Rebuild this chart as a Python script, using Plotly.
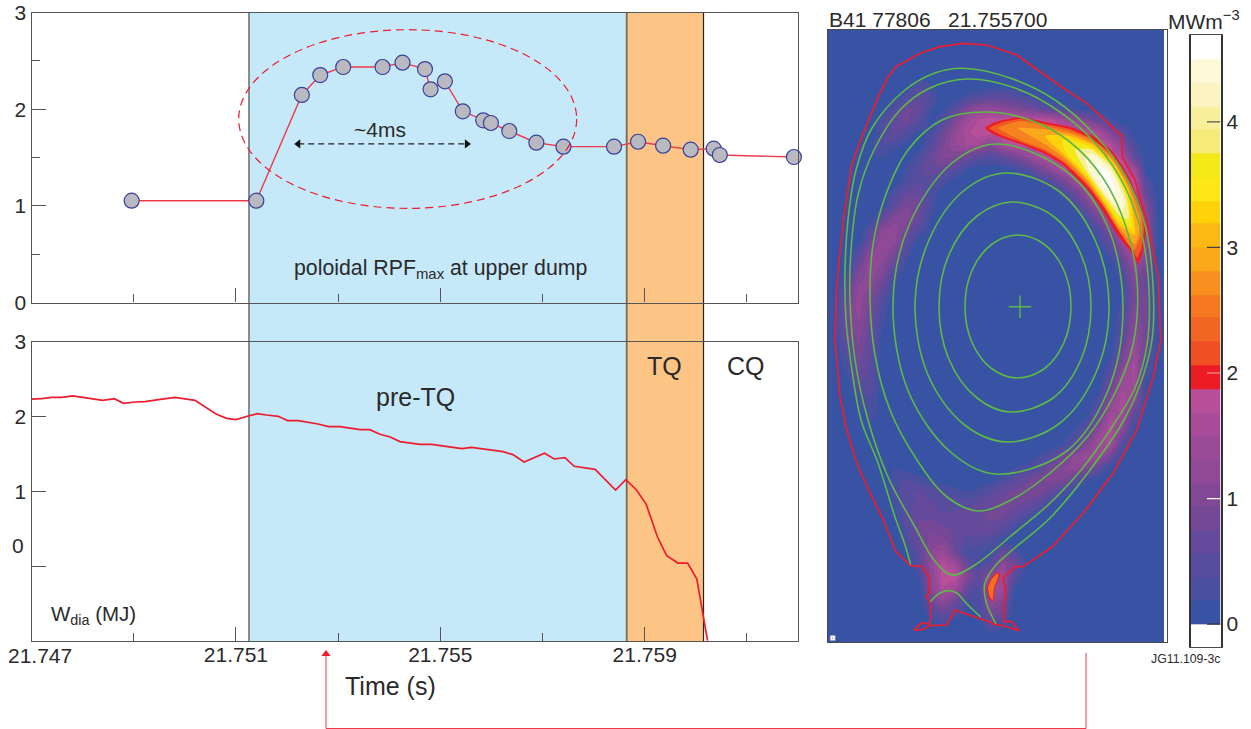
import plotly.graph_objects as go

W, H = 1251, 729
INK = "#2b2a2b"
RED = "#ed1c2e"
GREEN = "#5cb947"
FONT = "Liberation Sans"

# ---------- time traces ----------
RPF_T = [21.74896, 21.7514, 21.75229, 21.75265, 21.7531, 21.75387, 21.75426, 21.7547, 21.75481, 21.75509,
         21.75544, 21.75584, 21.75599, 21.75635, 21.75688, 21.75741, 21.7584, 21.75887, 21.75936, 21.7599,
         21.76035, 21.76047, 21.76192]
RPF_V = [1.053, 1.053, 2.147, 2.353, 2.436, 2.436, 2.481, 2.415, 2.205, 2.288,
         1.978, 1.885, 1.857, 1.774, 1.653, 1.612, 1.612, 1.663, 1.622, 1.581,
         1.591, 1.526, 1.505]
WDIA_T = [21.747, 21.7472, 21.7474, 21.74759, 21.74781, 21.74801, 21.74821, 21.74839, 21.74862, 21.7488,
          21.74903, 21.74922, 21.74952, 21.74981, 21.7502, 21.75043, 21.75061, 21.75082, 21.751, 21.75124,
          21.75142, 21.7516, 21.75183, 21.75201, 21.75222, 21.75261, 21.75281, 21.75304, 21.75343, 21.75362,
          21.75382, 21.75402, 21.75421, 21.7546, 21.75483, 21.75542, 21.75561, 21.75623, 21.75642, 21.75664,
          21.75704, 21.75723, 21.75744, 21.75762, 21.75803, 21.75843, 21.75863, 21.75884, 21.75903, 21.75925,
          21.75943, 21.75965, 21.75984, 21.76002, 21.76015, 21.76023]
WDIA_V = [2.237, 2.242, 2.26, 2.26, 2.278, 2.26, 2.242, 2.22, 2.242, 2.18,
          2.197, 2.202, 2.233, 2.26, 2.22, 2.113, 2.037, 1.979, 1.961, 2.01,
          2.041, 2.023, 2.006, 1.948, 1.948, 1.903, 1.867, 1.867, 1.827, 1.827,
          1.765, 1.729, 1.667, 1.631, 1.631, 1.573, 1.591, 1.533, 1.493, 1.395,
          1.511, 1.435, 1.453, 1.337, 1.297, 1.02, 1.158, 1.02, 0.828, 0.391,
          0.142, 0.043, 0.043, -0.171, -0.675, -0.996]
PRE_TQ_BAND = [21.751256, 21.758648]
TQ_BAND = [21.758648, 21.760151]
ELLIPSE_T = [21.751055, 21.757669]
ELLIPSE_V = [0.974, 2.822]
ARROW_T = [21.75222, 21.75552]
ARROW_V = [1.64, 1.64]
X_RANGE = [21.747, 21.762]
X_MAJOR = [21.751, 21.755, 21.759]
X_MAJOR_TEXT = ["21.751", "21.755", "21.759"]
X_MINOR = [21.749, 21.753, 21.757, 21.761]

# ---------- colour bands (MW m^-3) ----------
BAND_EDGES = [-0.18, 0.0, 0.187, 0.374, 0.561, 0.748, 0.935, 1.122, 1.309, 1.496, 1.683, 1.873, 2.064, 2.25,
              2.44, 2.62, 2.81, 3.0, 3.19, 3.37, 3.56, 3.75, 3.94, 4.12, 4.31, 4.5, 4.69]
BAND_COLORS = ["#ffffff", "#3953a4", "#4a4fa0", "#574c9e", "#654a9b", "#744895", "#824896", "#8f4996", "#9b4a98",
               "#a84c9a", "#b84f9b", "#ed1c24", "#f04e23", "#f26522", "#f5771f", "#f88f1e", "#fba81a", "#fdb913",
               "#ffd20a", "#fde715", "#f3e918", "#f6eb78", "#f8ef9b", "#fbf4c0", "#fdf8d5", "#ffffff"]
CB_TICKS = [0, 1, 2, 3, 4]
CB_TICK_COLORS = ["#333333", "#ffffff", "#f6a5a5", "#444444", "#555555"]

# ---------- emission map: (row, first column, values) ; everything else is 0 ----------
EMISSION_X = [834 + 12 * i for i in range(28)]
EMISSION_Y = [36 + 12 * j for j in range(51)]
EMISSION_ROWS = [
    (4, 7, [.3, .2]),
    (5, 6, [.3, .6, .4, 0, 0, .2, .4, .5, .5, .4, .3, .2]),
    (6, 5, [.4, .8, .7, .2, .1, .4, .9, 1.2, 1.2, 1.1, 1.0, .8, .6, .4, .3, .2]),
    (7, 4, [.3, .7, .8, .5, .1, .3, .9, 1.4, 1.7, 1.85, 1.85, 1.85, 1.85, 1.85, 1.8, 1.5, 1.3, 1.0, .6, .2]),
    (8, 4, [.4, .6, .4, .1, .2, .7, 1.2, 1.6, 1.85, 1.85, 1.85, 1.85, 1.85, 1.85, 1.85, 1.85, 1.85, 1.8, 1.6, 1.0, .5]),
    (9, 3, [.1, .4, .3, .1, 0, .4, .9, 1.3, 1.5, 1.5, 1.0, 1.6, 1.85, 1.85, 1.85, 1.85, 1.85, 1.85, 1.85, 1.85, 1.7, 1.0, .3]),
    (10, 3, [.2, .2, 0, 0, .3, .7, 1.0, 1.0, .8, .5, .4, .6, .8, 1.2, 1.6, 1.85, 1.85, 1.85, 1.85, 1.85, 1.85, 1.6, .5]),
    (11, 6, [.2, .5, .7, .7, .5, .2, .1, .1, .1, .2, .4, .8, 1.2, 1.7, 1.85, 1.85, 1.85, 1.85, 1.85, 1.4]),
    (12, 6, [.3, .5, .5, .3, .1, 0, 0, 0, 0, 0, 0, .2, .4, .8, 1.4, 1.85, 1.85, 1.85, 1.85, 1.85, .3]),
    (13, 5, [.3, .6, .7, .3, .1, 0, 0, 0, 0, 0, 0, 0, 0, 0, .3, .7, 1.3, 1.85, 1.85, 1.85, 1.85, .6]),
    (14, 5, [.5, .9, .8, .3, 0, 0, 0, 0, 0, 0, 0, 0, 0, 0, 0, .3, .8, 1.5, 1.85, 1.85, 1.85, 1.0]),
    (15, 4, [.5, 1.0, 1.1, .7, .2, 0, 0, 0, 0, 0, 0, 0, 0, 0, 0, 0, 0, .3, .9, 1.7, 1.85, 1.85, 1.2]),
    (16, 3, [.4, 1.1, 1.2, .9, .4, .1, 0, 0, 0, 0, 0, 0, 0, 0, 0, 0, 0, 0, 0, .4, 1.1, 1.85, 1.85, 1.3]),
    (17, 3, [.7, 1.3, 1.2, .6, .1, 0, 0, 0, 0, 0, 0, 0, 0, 0, 0, 0, 0, 0, 0, .2, .6, 1.4, 1.85, 1.3]),
    (18, 2, [.4, 1.1, 1.3, .9, .3, 0, 0, 0, 0, 0, 0, 0, 0, 0, 0, 0, 0, 0, 0, 0, 0, .3, .9, 1.7, 1.1]),
    (19, 2, [.7, 1.3, 1.1, .6, .1, 0, 0, 0, 0, 0, 0, 0, 0, 0, 0, 0, 0, 0, 0, 0, 0, 0, .5, 1.3, .9]),
    (20, 1, [.3, 1.0, 1.25, .9, .3, 0, 0, 0, 0, 0, 0, 0, 0, 0, 0, 0, 0, 0, 0, 0, 0, 0, 0, .3, 1.0, .7]),
    (21, 1, [.5, 1.2, 1.1, .6, .1, 0, 0, 0, 0, 0, 0, 0, 0, 0, 0, 0, 0, 0, 0, 0, 0, 0, 0, .2, .9, .7]),
    (22, 1, [.7, 1.25, .9, .4, 0, 0, 0, 0, 0, 0, 0, 0, 0, 0, 0, 0, 0, 0, 0, 0, 0, 0, 0, .2, .9, .8]),
    (23, 0, [.2, .8, 1.2, .8, .3, 0, 0, 0, 0, 0, 0, 0, 0, 0, 0, 0, 0, 0, 0, 0, 0, 0, 0, 0, .3, 1.0, .8]),
    (24, 0, [.1, .8, 1.1, .7, .2, 0, 0, 0, 0, 0, 0, 0, 0, 0, 0, 0, 0, 0, 0, 0, 0, 0, 0, 0, .4, 1.1, .8]),
    (25, 0, [.1, .7, 1.0, .6, .1, 0, 0, 0, 0, 0, 0, 0, 0, 0, 0, 0, 0, 0, 0, 0, 0, 0, 0, 0, .5, 1.2, .8]),
    (26, 1, [.5, .9, .6, .1, 0, 0, 0, 0, 0, 0, 0, 0, 0, 0, 0, 0, 0, 0, 0, 0, 0, 0, 0, .7, 1.4, .7]),
    (27, 1, [.3, .8, .5, 0, 0, 0, 0, 0, 0, 0, 0, 0, 0, 0, 0, 0, 0, 0, 0, 0, 0, 0, .2, .9, 1.5, .5]),
    (28, 1, [.2, .7, .5, 0, 0, 0, 0, 0, 0, 0, 0, 0, 0, 0, 0, 0, 0, 0, 0, 0, 0, 0, .4, 1.2, 1.6, .3]),
    (29, 2, [.5, .5, .1, 0, 0, 0, 0, 0, 0, 0, 0, 0, 0, 0, 0, 0, 0, 0, 0, 0, 0, .7, 1.4, 1.5, .1]),
    (30, 2, [.3, .4, 0, 0, 0, 0, 0, 0, 0, 0, 0, 0, 0, 0, 0, 0, 0, 0, 0, 0, .2, 1.0, 1.6, 1.2]),
    (31, 2, [.1, .3, .1, 0, 0, 0, 0, 0, 0, 0, 0, 0, 0, 0, 0, 0, 0, 0, 0, 0, .5, 1.3, 1.6, .8]),
    (32, 3, [.2, .1, 0, 0, 0, 0, 0, 0, 0, 0, 0, 0, 0, 0, 0, 0, 0, 0, .2, .8, 1.6, 1.4, .3]),
    (33, 3, [.1, .1, 0, 0, 0, 0, 0, 0, 0, 0, 0, 0, 0, 0, 0, 0, 0, .2, .6, 1.2, 1.7, 1.0]),
    (34, 4, [.1, 0, 0, 0, 0, 0, 0, 0, 0, 0, 0, 0, 0, 0, 0, .2, .5, 1.0, 1.5, 1.5, .4]),
    (35, 4, [.1, .1, 0, 0, 0, 0, 0, 0, 0, 0, 0, 0, 0, .2, .4, .8, 1.2, 1.4, 1.4, .8]),
    (36, 5, [.2, .1, 0, 0, 0, 0, 0, 0, 0, 0, .2, .3, .5, .9, 1.1, 1.2, 1.0, .6]),
    (37, 5, [.3, .4, .3, .2, .1, 0, 0, 0, .1, .3, .5, .7, .9, 1.0, .9, .6, .2]),
    (38, 5, [.3, .5, .6, .5, .4, .3, .2, .3, .5, .7, .8, .9, .9, .6, .3]),
    (39, 5, [.2, .5, .6, .6, .5, .5, .5, .6, .7, .8, .8, .7, .5, .2]),
    (40, 5, [.1, .5, .7, .7, .6, .6, .7, .7, .8, .8, .6, .3, .1]),
    (41, 6, [.4, .8, .9, .8, .7, .6, .7, .7, .5, .2]),
    (42, 6, [.3, .7, 1.0, 1.0, .7, .5, .5, .4, .1]),
    (43, 6, [.1, .5, 1.1, 1.4, .8, .2, .2, .1, .7, .4]),
    (44, 7, [.4, 1.2, 1.75, 1.5, .7, .3, .5, 1.2, .8, .2]),
    (45, 7, [.2, 1.1, 1.75, 1.8, 1.1, .5, 1.2, 1.5, .5]),
    (46, 8, [1.0, 1.7, 1.5, .7, .3, 1.6, 1.4, .1]),
    (47, 8, [.7, 1.2, .8, .3, .2, 1.3, 1.0]),
    (48, 8, [.3, .7, .4, .1, .2, .9, .7]),
    (49, 9, [.2, 0, 0, 0, .5, .3]),
]

# ---------- iso-emission outlines of the hot crescent and the divertor spot ----------
HOT_RED_X = [985, 993, 1003, 1020, 1050, 1070, 1093, 1113, 1130, 1142, 1146, 1143, 1138, 1133, 1117, 1103, 1087, 1063, 1043, 1023, 1003, 993, 985]
HOT_RED_Y = [128, 123, 120, 117, 123, 127, 136, 152, 179, 210, 228, 250, 264, 255, 234, 211, 189, 165, 153, 145, 138, 134, 128]
HOT_206_X = [989, 995, 1003, 1020, 1050, 1070, 1093, 1112.3, 1129, 1141.4, 1144, 1141.5, 1137, 1133.6, 1118, 1103.7, 1087.4, 1063.5, 1044, 1023, 1003, 995, 989]
HOT_206_Y = [128, 125, 122, 119, 125, 129, 139.5, 156, 183, 213, 228, 248, 258, 252, 230, 207, 185.5, 162.5, 151, 143, 136, 132, 128]
HOT_244_X = [998, 1020.5, 1049, 1069, 1092.5, 1112.3, 1129, 1141, 1142, 1134, 1118, 1103.7, 1087.5, 1063.7, 1044, 1022.5, 998]
HOT_244_Y = [128, 121, 126.5, 131, 140, 156.5, 184, 215, 232, 250, 229, 206, 184, 161, 149, 141, 128]
HOT_281_X = [1018, 1048, 1069, 1092.3, 1112, 1128.6, 1139.7, 1139, 1135, 1118.4, 1104, 1087.7, 1064, 1045, 1018]
HOT_281_Y = [128, 129.7, 133.3, 142.5, 158.7, 186, 221, 232, 244, 227, 204, 181.5, 157.7, 144.3, 128]
HOT_319_X = [1045, 1068.5, 1092, 1111.7, 1128, 1135, 1119, 1104.3, 1088, 1064.5, 1045]
HOT_319_Y = [136, 135.7, 144.5, 160.4, 188.5, 235, 224.5, 202.6, 179.5, 155.3, 136]
HOT_356_X = [1062, 1067.7, 1091.8, 1111.3, 1127, 1132, 1120, 1104.7, 1088.2, 1065.3, 1062]
HOT_356_Y = [140, 139.5, 147, 162.7, 191.7, 228, 221.3, 200.3, 177, 151.5, 140]
HOT_394_X = [1075, 1091.5, 1110.8, 1126, 1129, 1121, 1105.2, 1088.5, 1075]
HOT_394_Y = [150, 149.5, 165.5, 196, 219, 217, 197.5, 174.5, 150]
HOT_431_X = [1085, 1091, 1110.3, 1124.8, 1122.2, 1105.7, 1089, 1085]
HOT_431_Y = [156, 153.5, 168.4, 201, 212, 194.6, 170.5, 156]
HOT_450_X = [1095, 1109.4, 1116, 1106.6, 1095]
HOT_450_Y = [164, 173.5, 198, 189.5, 164]
SPOT_RED_X = [998, 1000, 995, 993, 989, 987, 992, 998]
SPOT_RED_Y = [572, 575, 588, 602, 598, 588, 577, 572]
SPOT_206_X = [997.5, 998.5, 994, 992.5, 990, 988, 992.5, 997.5]
SPOT_206_Y = [573.5, 575.5, 588, 600, 597, 588, 578, 573.5]
HOT_LAYERS = [
    (HOT_RED_X, HOT_RED_Y, "#ed1c24"), (HOT_206_X, HOT_206_Y, "#f15a24"), (HOT_244_X, HOT_244_Y, "#f5821f"),
    (HOT_281_X, HOT_281_Y, "#fba81a"), (HOT_319_X, HOT_319_Y, "#ffd20a"), (HOT_356_X, HOT_356_Y, "#f3e918"),
    (HOT_394_X, HOT_394_Y, "#f8ef9b"), (HOT_431_X, HOT_431_Y, "#fdf8d5"), (HOT_450_X, HOT_450_Y, "#ffffff"),
    (SPOT_RED_X, SPOT_RED_Y, "#ed1c24"), (SPOT_206_X, SPOT_206_Y, "#f36f21"),
]

# ---------- flux surfaces ----------
S1_X = [1017, 1044.5, 1064, 1071, 1064, 1044.5, 1017, 991.5, 972, 965, 972, 991.5, 1017]
S1_Y = [235, 244.5, 270.5, 306, 342.5, 368.5, 378, 368.5, 342.5, 306, 270.5, 244.5, 235]
S2_X = [1012, 1053, 1081, 1091, 1081, 1053, 1010, 977, 949, 939, 949, 977, 1012]
S2_Y = [202, 216, 254.5, 306, 359.5, 398, 412, 398, 359.5, 306, 254.5, 216, 202]
S3_X = [1005, 1058, 1095, 1109, 1095, 1058, 1007, 964, 928, 915, 929, 964, 1005]
S3_Y = [173, 190.5, 240, 307, 375, 424.5, 442, 424.5, 375, 305, 240, 190.5, 173]
S4_X = [997, 1067, 1107.6, 1123, 1107.6, 1065.5, 995, 950.5, 908.4, 893, 908.4, 952, 997]
S4_Y = [144, 172, 226.5, 309, 391.5, 452, 474, 452, 391.5, 305, 226.5, 163, 144]
S5_X = [985, 1030, 1070, 1103, 1125, 1137, 1133, 1113, 1087, 1050, 1013, 978, 947, 917, 890, 875, 870, 873, 885, 908, 942, 985]
S5_Y = [112, 120, 142, 178, 224, 280, 345, 397, 437, 473, 499, 511, 497, 460, 410, 355, 297, 245, 197, 150, 120, 112]
S6_X = [967, 1015, 1060, 1097, 1125, 1142, 1149, 1147, 1135, 1110, 1081, 1048, 1012, 975, 952, 934, 915, 888, 868, 855, 850, 851, 858, 874, 900, 930, 967]
S6_Y = [79, 88, 112, 145, 187, 235, 290, 345, 388, 430, 470, 505, 535, 565, 575, 560, 527, 477, 420, 360, 300, 250, 195, 150, 110, 88, 79]
S7_X = [910.7, 905, 895, 878, 861, 852, 846, 845, 848, 856, 872, 905, 935, 962, 1010, 1055, 1095, 1125, 1145, 1153, 1152, 1140, 1124, 1090, 1050, 1010, 995, 985, 984.3, 987, 996]
S7_Y = [565, 545, 517, 463, 420, 370, 320, 270, 220, 170, 128, 90, 73, 68.3, 78, 100, 135, 175, 225, 285, 340, 385, 420, 470, 518, 552, 566, 583, 592, 605, 624]
LEG_X = [930, 940, 950, 956.7, 968, 980.7]
LEG_Y = [602, 593, 590.7, 593, 605, 617]
SURFACES = [(S1_X, S1_Y), (S2_X, S2_Y), (S3_X, S3_Y), (S4_X, S4_Y), (S5_X, S5_Y), (S6_X, S6_Y), (S7_X, S7_Y), (LEG_X, LEG_Y)]
AXIS_X = [1020]
AXIS_Y = [306.7]

# ---------- vessel wall ----------
WALL_X = [835, 836.7, 843.3, 851.7, 863.3, 878.3, 888.3, 896, 920, 940, 963.3, 986.7, 1016.7, 1028.3, 1063.3, 1086.7, 1121.7, 1122.3,
          1135, 1148.3, 1158.3, 1160.7, 1153.3, 1136.7, 1113.3, 1083.3, 1051.7, 1023, 1015, 1003, 1006, 1004, 1004, 1011.7, 1019, 1000.7,
          995, 993, 954.7, 946.7, 930, 921.7, 914, 921.7, 929, 930.7, 930, 926.7, 929, 929, 921.7, 910.7, 896, 883.3, 870, 856.7, 846.7, 840, 835]
WALL_Y = [340, 286.7, 220, 165, 133, 96.7, 76.7, 66.7, 53.3, 46.7, 43.3, 45, 55, 63.3, 88.3, 103.3, 136, 156.7,
          180, 226.7, 276.7, 340, 376.7, 430, 473, 513, 547.3, 566.7, 566.7, 578, 593, 603, 621.7, 621.7, 630.7, 625,
          625, 623.3, 610, 625, 625.7, 630, 630, 623, 624, 620, 603, 596, 593, 577, 566, 566, 551.7, 520, 493, 463, 430, 396.7, 340]

# ---------- red connector between the image and the time axis (page pixels) ----------
CONNECTOR_X = [1086, 1086, 326, 326]
CONNECTOR_Y = [653, 728.5, 728.5, 656]
CONNECTOR_HEAD_X = [326]
CONNECTOR_HEAD_Y = [654]


def xdom(a, b):
    return [a / W, b / W]


def ydom(top, bottom):
    return [1 - bottom / H, 1 - top / H]


def stepped_scale():
    lo, hi = BAND_EDGES[0], BAND_EDGES[-1]
    scale = []
    for k, c in enumerate(BAND_COLORS):
        scale.append([(BAND_EDGES[k] - lo) / (hi - lo), c])
        scale.append([(BAND_EDGES[k + 1] - lo) / (hi - lo), c])
    return scale


SCALE = stepped_scale()
fig = go.Figure()

# emission map
z = [[0.0] * len(EMISSION_X) for _ in EMISSION_Y]
for row, first, vals in EMISSION_ROWS:
    for k, v in enumerate(vals):
        z[row][first + k] = v
fig.add_trace(go.Heatmap(x=EMISSION_X, y=EMISSION_Y, z=z, zmin=BAND_EDGES[0], zmax=BAND_EDGES[-1], colorscale=SCALE,
                         zsmooth="best", showscale=False, xaxis="x3", yaxis="y3", hoverinfo="skip"))
for xs, ys, col in HOT_LAYERS:
    fig.add_trace(go.Scatter(x=xs, y=ys, mode="lines", line=dict(width=0, shape="spline", smoothing=0.5), fill="toself",
                             fillcolor=col, xaxis="x3", yaxis="y3", hoverinfo="skip"))
for xs, ys in SURFACES:
    fig.add_trace(go.Scatter(x=xs, y=ys, mode="lines", line=dict(color=GREEN, width=1.6, shape="spline", smoothing=1.0),
                             xaxis="x3", yaxis="y3", hoverinfo="skip"))
fig.add_trace(go.Scatter(x=WALL_X, y=WALL_Y, mode="lines", line=dict(color=RED, width=1.7), xaxis="x3", yaxis="y3", hoverinfo="skip"))
fig.add_trace(go.Scatter(x=AXIS_X, y=AXIS_Y, mode="markers", xaxis="x3", yaxis="y3", hoverinfo="skip",
                         marker=dict(symbol="cross-thin", size=16, line=dict(color=GREEN, width=1.4))))
fig.add_trace(go.Scatter(x=[832.7], y=[638], mode="markers", xaxis="x3", yaxis="y3", hoverinfo="skip",
                         marker=dict(symbol="square-dot", size=5, color="#ffffff", line=dict(color="#9a9aa5", width=0.6))))

# colour bar
cb_mid = [[(BAND_EDGES[k] + BAND_EDGES[k + 1]) / 2] for k in range(len(BAND_COLORS))]
fig.add_trace(go.Heatmap(x=[0, 1], y=BAND_EDGES, z=cb_mid, zmin=BAND_EDGES[0], zmax=BAND_EDGES[-1], colorscale=SCALE,
                         showscale=False, xaxis="x4", yaxis="y4", hoverinfo="skip"))
for t, c in zip(CB_TICKS, CB_TICK_COLORS):
    fig.add_trace(go.Scatter(x=[0.55, 1], y=[t, t], mode="lines", line=dict(color=c, width=1.2), xaxis="x4", yaxis="y4", hoverinfo="skip"))

# RPF panel
fig.add_trace(go.Scatter(x=RPF_T, y=RPF_V, mode="lines+markers", xaxis="x", yaxis="y", cliponaxis=False,
                         line=dict(color="#ef3a4c", width=1.4),
                         marker=dict(size=15, color="#b9babf", line=dict(color="#3b3f9e", width=1.2))))
fig.add_trace(go.Scatter(x=ARROW_T, y=ARROW_V, mode="lines+markers", xaxis="x", yaxis="y",
                         line=dict(color="#222222", width=1.3, dash="6px,4px"),
                         marker=dict(size=8, color="#111111", symbol=["triangle-left", "triangle-right"], line=dict(width=0))))
# energy panel
fig.add_trace(go.Scatter(x=WDIA_T, y=WDIA_V, mode="lines", xaxis="x2", yaxis="y2", line=dict(color=RED, width=1.7)))

# connector
fig.add_trace(go.Scatter(x=CONNECTOR_X, y=CONNECTOR_Y, mode="lines", line=dict(color="#ef3a4c", width=1), xaxis="x5", yaxis="y5", hoverinfo="skip"))
fig.add_trace(go.Scatter(x=CONNECTOR_HEAD_X, y=CONNECTOR_HEAD_Y, mode="markers", marker=dict(symbol="triangle-up", size=8, color=RED, line=dict(width=0)),
                         xaxis="x5", yaxis="y5", hoverinfo="skip"))

AX = "#555555"
tick_font = dict(family=FONT, size=21, color=INK)
minor = dict(tickvals=X_MINOR, ticks="inside", ticklen=8, tickcolor=AX, tickwidth=1.2)


def time_axis(domain, anchor, labels):
    return dict(domain=domain, anchor=anchor, range=X_RANGE, tickmode="array", tickvals=X_MAJOR,
                ticktext=X_MAJOR_TEXT, showticklabels=labels, ticklabelstandoff=-5,
                ticks="inside", ticklen=14, tickcolor=AX, tickwidth=1.2, minor=minor, showgrid=False, zeroline=False,
                showline=True, mirror=True, linecolor=AX, linewidth=1.4, tickfont=tick_font)


def hidden(domain, anchor, rng):
    return dict(domain=domain, anchor=anchor, range=rng, visible=True, showticklabels=False, ticks="", showgrid=False, zeroline=False,
                showline=True, mirror=True, linecolor="#4a4a4a", linewidth=1.4)


layout = dict(
    width=W, height=H, autosize=False, margin=dict(l=0, r=0, t=0, b=0, pad=0, autoexpand=False), showlegend=False,
    paper_bgcolor="#ffffff", plot_bgcolor="rgba(0,0,0,0)", font=dict(family=FONT, color=INK),
    xaxis=time_axis(xdom(31.5, 798), "y", False),
    xaxis2=time_axis(xdom(31.5, 798), "y2", True),
    yaxis=dict(domain=ydom(12.5, 302.5), anchor="x", range=[0, 3], tickmode="array", tickvals=[0, 1, 2, 3],
               ticks="inside", ticklen=14, tickcolor=AX, tickwidth=1.2,
               minor=dict(tickvals=[0.5, 1.5, 2.5], ticks="inside", ticklen=8, tickcolor=AX, tickwidth=1.2),
               showgrid=False, zeroline=False, showline=True, mirror=True, linecolor=AX, linewidth=1.4, tickfont=tick_font),
    yaxis2=dict(domain=ydom(342, 641), anchor="x2", range=[-1, 3], tickmode="array", tickvals=[1, 2, 3],
                ticks="inside", ticklen=14, tickcolor=AX, tickwidth=1.2,
                minor=dict(tickvals=[0], ticks="inside", ticklen=14, tickcolor=AX, tickwidth=1.2),
                showgrid=False, zeroline=False, showline=True, mirror=True, linecolor=AX, linewidth=1.4, tickfont=tick_font),
    xaxis3=hidden(xdom(828, 1167), "y3", [828, 1167]),
    yaxis3=hidden(ydom(30, 642), "x3", [642, 30]),
    xaxis4=hidden(xdom(1190.5, 1220.5), "y4", [0, 1]),
    yaxis4=dict(domain=ydom(35.3, 646.7), anchor="x4", side="right", range=[BAND_EDGES[0], BAND_EDGES[-1]], tickmode="array",
                tickvals=CB_TICKS, ticks="", showgrid=False, zeroline=False, showline=True, mirror=True, linecolor="#333333",
                linewidth=1.6, tickfont=tick_font),
    xaxis5=dict(domain=[0, 1], anchor="y5", range=[0, W], visible=False),
    yaxis5=dict(domain=[0, 1], anchor="x5", range=[H, 0], visible=False),
    shapes=[
        dict(type="rect", xref="x", yref="paper", x0=PRE_TQ_BAND[0], x1=PRE_TQ_BAND[1], y0=ydom(12.5, 641)[0], y1=ydom(12.5, 641)[1],
             fillcolor="#c5e9f9", line=dict(width=0), layer="below"),
        dict(type="rect", xref="x", yref="paper", x0=TQ_BAND[0], x1=TQ_BAND[1], y0=ydom(12.5, 641)[0], y1=ydom(12.5, 641)[1],
             fillcolor="#fcc585", line=dict(width=0), layer="below"),
        dict(type="line", xref="x", yref="paper", x0=PRE_TQ_BAND[0], x1=PRE_TQ_BAND[0], y0=ydom(12.5, 641)[0], y1=ydom(12.5, 641)[1],
             line=dict(color="#5f6468", width=1.4), layer="below"),
        dict(type="line", xref="x", yref="paper", x0=TQ_BAND[0], x1=TQ_BAND[0], y0=ydom(12.5, 641)[0], y1=ydom(12.5, 641)[1],
             line=dict(color="#7d6750", width=1.8), layer="below"),
        dict(type="line", xref="x", yref="paper", x0=TQ_BAND[1], x1=TQ_BAND[1], y0=ydom(12.5, 641)[0], y1=ydom(12.5, 641)[1],
             line=dict(color="#222222", width=1.2), layer="below"),
        dict(type="circle", xref="x", yref="y", x0=ELLIPSE_T[0], x1=ELLIPSE_T[1], y0=ELLIPSE_V[0], y1=ELLIPSE_V[1],
             line=dict(color=RED, width=1.2, dash="8px,5px")),
    ],
)


def note(text, x, y, size, anchor="center"):
    return dict(text=text, x=x, y=y, xref="x5", yref="y5", showarrow=False, xanchor=anchor, yanchor="middle",
                font=dict(family=FONT, size=size, color=INK))


layout["annotations"] = [
    note("21.747", 39.5, 655, 21),
    note("0", 26, 545, 21, "right"),
    note("~4ms", 380, 129, 21),
    note("poloidal RPF<sub>max</sub> at upper dump", 292, 269, 21.3, "left"),
    note("pre-TQ", 415, 397, 25),
    note("TQ", 664, 366, 25),
    note("CQ", 746, 366, 25),
    note("W<sub>dia</sub> (MJ)", 49, 615, 20.5, "left"),
    note("Time (s)", 343, 686, 25, "left"),
    note("B41 77806\u00a0\u00a0\u00a021.755700", 827, 19, 21, "left"),
    note("MWm<sup>\u22123</sup>", 1166, 20, 21, "left"),
    note("JG11.109-3c", 1149, 659, 12.3, "left"),
]
fig.update_layout(**layout)
fig.write_html("out.html", config={"displayModeBar": False}, post_script="document.body.style.margin='0';")
